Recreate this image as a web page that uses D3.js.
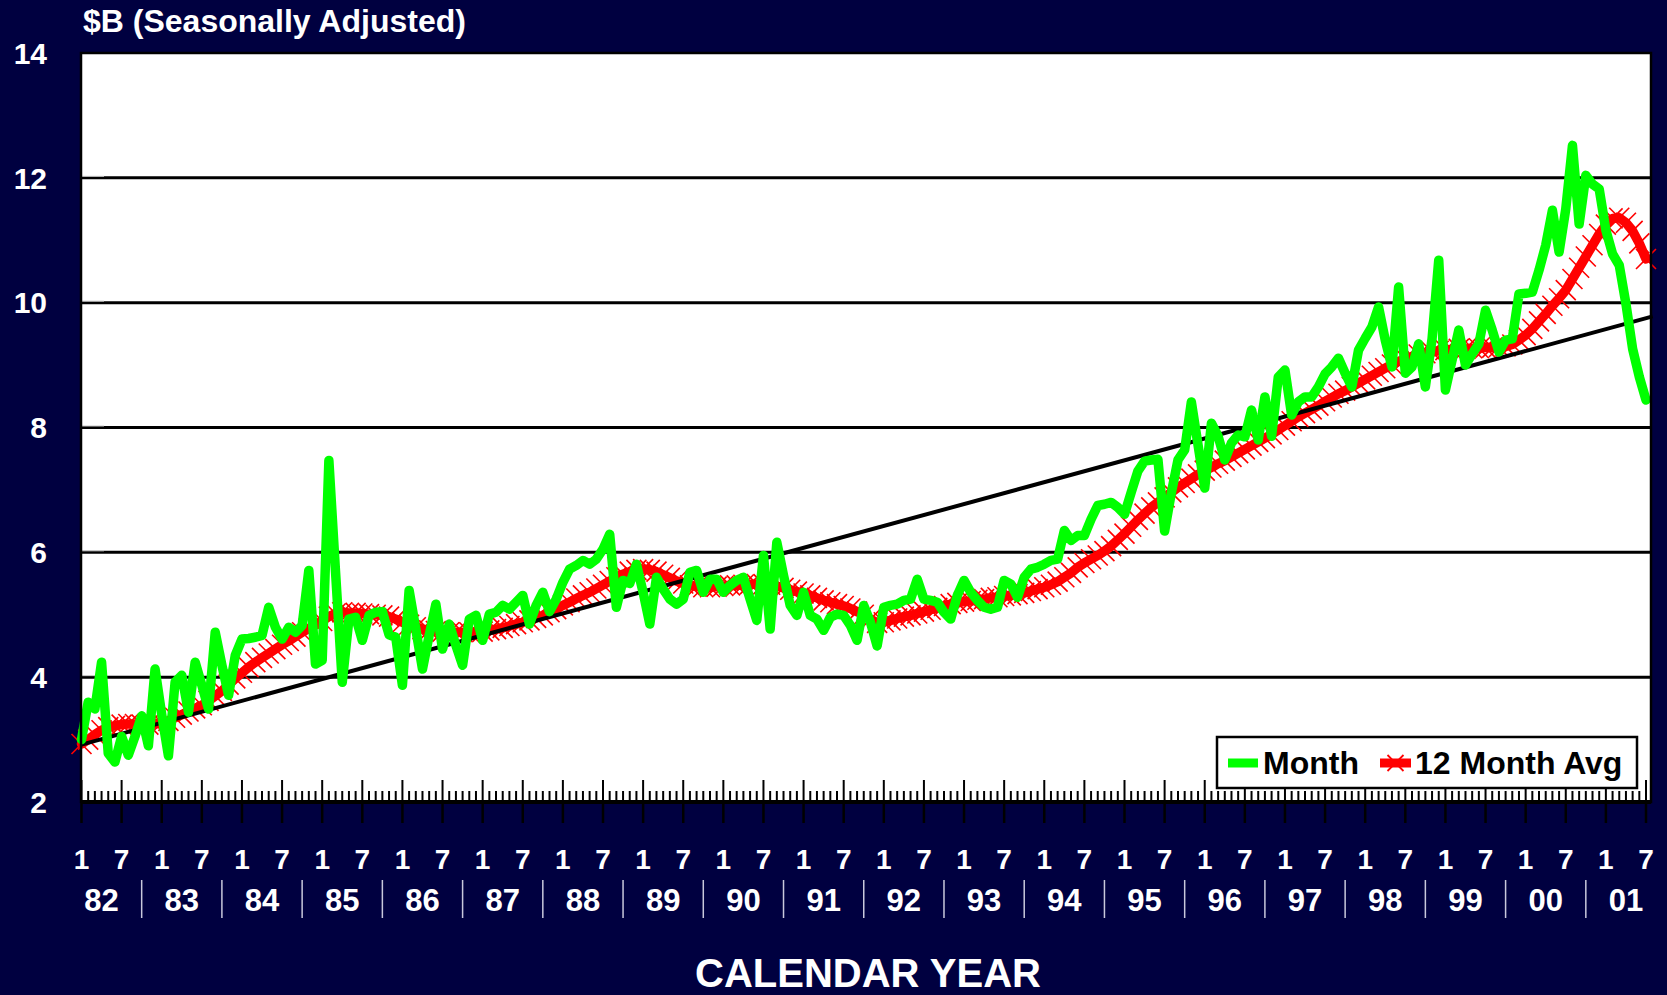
<!DOCTYPE html>
<html>
<head>
<meta charset="utf-8">
<script src="https://cdn.jsdelivr.net/npm/d3@7/dist/d3.min.js"></script>
<style>
  html, body { margin: 0; padding: 0; background: #000040; }
  svg { display: block; }
  text { font-family: "Liberation Sans", Arial, sans-serif; font-weight: bold; }
</style>
</head>
<body>
<div id="chart"></div>
<script>
// year labels and the two month labels shown per year
var years = ["82","83","84","85","86","87","88","89","90","91","92","93","94","95","96","97","98","99","00","01"];
var halfLabels = ["1", "7"];
var yTicks = [2, 4, 6, 8, 10, 12, 14];
var seriesNames = ["Month", "12 Month Avg"];

// monthly values, $B, Jan 1982 .. Jul 2001 (one row per year)
var monthly = [
  3.00, 3.60, 3.49, 4.24, 2.78, 2.64, 3.05, 2.75, 3.05, 3.38, 2.90, 4.13,
  3.40, 2.74, 3.92, 4.03, 3.44, 4.24, 3.87, 3.49, 4.72, 4.19, 3.71, 4.35,
  4.61, 4.62, 4.64, 4.67, 5.12, 4.80, 4.61, 4.80, 4.72, 4.83, 5.71, 4.21,
  4.27, 7.47, 5.68, 3.92, 4.93, 4.96, 4.59, 4.99, 5.04, 5.05, 4.68, 4.64,
  3.87, 5.39, 4.77, 4.13, 4.67, 5.17, 4.45, 4.85, 4.51, 4.19, 4.93, 4.99,
  4.59, 5.01, 5.04, 5.15, 5.09, 5.20, 5.31, 4.85, 5.15, 5.36, 5.05, 5.25,
  5.52, 5.73, 5.79, 5.87, 5.81, 5.89, 6.05, 6.29, 5.12, 5.55, 5.50, 5.81,
  5.36, 4.85, 5.60, 5.41, 5.25, 5.17, 5.25, 5.68, 5.71, 5.36, 5.57, 5.57,
  5.36, 5.47, 5.55, 5.60, 5.25, 4.91, 5.95, 4.77, 6.16, 5.63, 5.15, 4.99,
  5.36, 4.99, 4.93, 4.75, 4.96, 5.01, 4.99, 4.83, 4.59, 5.15, 4.88, 4.50,
  5.12, 5.15, 5.17, 5.23, 5.25, 5.57, 5.25, 5.23, 5.20, 5.04, 4.93, 5.31,
  5.55, 5.36, 5.23, 5.12, 5.09, 5.12, 5.55, 5.49, 5.28, 5.60, 5.73, 5.76,
  5.81, 5.87, 5.89, 6.35, 6.19, 6.27, 6.27, 6.53, 6.75, 6.77, 6.80, 6.72,
  6.61, 6.96, 7.30, 7.46, 7.48, 7.49, 6.34, 6.95, 7.48, 7.64, 8.41, 7.72,
  7.03, 8.07, 7.86, 7.48, 7.75, 7.88, 7.85, 8.28, 7.80, 8.49, 7.86, 8.81,
  8.92, 8.20, 8.41, 8.49, 8.49, 8.65, 8.86, 8.97, 9.11, 8.87, 8.65, 9.24,
  9.43, 9.61, 9.93, 9.40, 8.97, 10.25, 8.87, 8.97, 9.34, 8.65, 9.42, 10.68,
  8.60, 9.08, 9.56, 9.00, 9.18, 9.34, 9.88, 9.56, 9.21, 9.40, 9.42, 10.14,
  10.15, 10.17, 10.52, 10.92, 11.48, 10.81, 11.50, 12.52, 11.26, 12.04, 11.90, 11.82,
  11.16, 10.78, 10.60, 9.98, 9.26, 8.81, 8.44
];

// 12 month average, $B, same months
var avg12 = [
  2.93, 3.00, 3.08, 3.15, 3.20, 3.22, 3.24, 3.25, 3.25, 3.24, 3.24, 3.25,
  3.27, 3.30, 3.35, 3.40, 3.45, 3.50, 3.55, 3.62, 3.70, 3.78, 3.88, 3.98,
  4.07, 4.16, 4.24, 4.31, 4.38, 4.45, 4.52, 4.58, 4.65, 4.72, 4.78, 4.84,
  4.90, 4.97, 5.02, 5.04, 5.03, 5.03, 5.02, 5.01, 5.00, 4.99, 4.97, 4.93,
  4.88, 4.84, 4.80, 4.77, 4.75, 4.74, 4.73, 4.72, 4.72, 4.72, 4.72, 4.72,
  4.73, 4.75, 4.77, 4.79, 4.82, 4.85, 4.88, 4.91, 4.95, 4.99, 5.04, 5.09,
  5.15, 5.20, 5.26, 5.31, 5.36, 5.42, 5.48, 5.54, 5.60, 5.65, 5.69, 5.72,
  5.73, 5.72, 5.69, 5.64, 5.59, 5.54, 5.50, 5.47, 5.45, 5.44, 5.44, 5.45,
  5.46, 5.47, 5.47, 5.48, 5.49, 5.49, 5.49, 5.48, 5.46, 5.43, 5.40, 5.37,
  5.34, 5.31, 5.27, 5.23, 5.20, 5.17, 5.14, 5.10, 5.05, 5.00, 4.93, 4.87,
  4.88, 4.91, 4.94, 4.97, 4.99, 5.02, 5.05, 5.08, 5.11, 5.14, 5.17, 5.19,
  5.21, 5.22, 5.24, 5.25, 5.27, 5.28, 5.30, 5.31, 5.33, 5.35, 5.38, 5.41,
  5.44, 5.48, 5.53, 5.60, 5.67, 5.76, 5.83, 5.89, 5.95, 6.02, 6.10, 6.20,
  6.30, 6.41, 6.52, 6.62, 6.72, 6.80, 6.88, 6.96, 7.04, 7.11, 7.18, 7.25,
  7.31, 7.36, 7.42, 7.47, 7.53, 7.59, 7.65, 7.71, 7.77, 7.83, 7.89, 7.96,
  8.03, 8.10, 8.17, 8.23, 8.29, 8.35, 8.42, 8.48, 8.54, 8.59, 8.65, 8.71,
  8.77, 8.83, 8.89, 8.95, 9.01, 9.06, 9.10, 9.14, 9.17, 9.19, 9.21, 9.23,
  9.24, 9.25, 9.26, 9.26, 9.27, 9.27, 9.28, 9.28, 9.29, 9.30, 9.33, 9.40,
  9.48, 9.58, 9.70, 9.82, 9.95, 10.07, 10.20, 10.38, 10.56, 10.74, 10.92, 11.10,
  11.25, 11.35, 11.36, 11.28, 11.15, 10.95, 10.70
];

// straight trend line: value at first month and at the right edge (month 235)
var trendMonths = [0, 235];
var trendValues = [2.92, 9.78];

var width = 1667, height = 995;
var plot = { left: 81, right: 1651, top: 53, bottom: 802 };
var nMonths = monthly.length;

var svg = d3.select("#chart").append("svg")
  .attr("width", width)
  .attr("height", height);

svg.append("rect")
  .attr("width", width).attr("height", height)
  .attr("fill", "#000040");

var x = d3.scaleLinear()
  .domain([0, nMonths - 1])
  .range([81.5, 1646]);

var y = d3.scaleLinear()
  .domain([2, 14])
  .range([plot.bottom, plot.top]);

// plot area
svg.append("rect")
  .attr("x", plot.left).attr("y", plot.top)
  .attr("width", plot.right - plot.left)
  .attr("height", plot.bottom - plot.top)
  .attr("fill", "#ffffff");

// gridlines
svg.append("g").selectAll("line")
  .data(yTicks.filter(function (d) { return d > 2 && d < 14; }))
  .enter().append("line")
    .attr("x1", plot.left).attr("x2", plot.right)
    .attr("y1", function (d) { return y(d); })
    .attr("y2", function (d) { return y(d); })
    .attr("stroke", "#000").attr("stroke-width", 3);

// short light y tick stubs on the gridlines
svg.append("g").selectAll("line")
  .data(yTicks.filter(function (d) { return d > 2 && d < 14; }))
  .enter().append("line")
    .attr("x1", plot.left + 1).attr("x2", plot.left + 23)
    .attr("y1", function (d) { return y(d) - 1.5; })
    .attr("y2", function (d) { return y(d) - 1.5; })
    .attr("stroke", "#c8c8c8").attr("stroke-width", 1);

// y labels
svg.append("g").selectAll("text")
  .data(yTicks)
  .enter().append("text")
    .attr("x", 47)
    .attr("y", function (d) { return y(d); })
    .attr("dy", "0.36em")
    .attr("text-anchor", "end")
    .attr("fill", "#fff")
    .attr("font-size", 30)
    .text(function (d) { return d; });

// title
svg.append("text")
  .attr("x", 83).attr("y", 32)
  .attr("fill", "#fff")
  .attr("font-size", 32)
  .text("$B (Seasonally Adjusted)");

// 12 month avg: x markers + thick line
var xMark = "M-10,-10L10,10M-10,10L10,-10";
svg.append("g").selectAll("path")
  .data(avg12)
  .enter().append("path")
    .attr("d", xMark)
    .attr("transform", function (d, i) { return "translate(" + x(i) + "," + y(d) + ")"; })
    .attr("stroke", "#ff0000").attr("stroke-width", 1.6).attr("fill", "none");

var line = d3.line()
  .x(function (d, i) { return x(i); })
  .y(function (d) { return y(d); });

svg.append("path")
  .datum(avg12)
  .attr("d", line)
  .attr("fill", "none")
  .attr("stroke", "#ff0000")
  .attr("stroke-width", 9.5)
  .attr("stroke-linejoin", "round")
  .attr("stroke-linecap", "round");

// trend line
svg.append("path")
  .datum(trendValues)
  .attr("d", d3.line()
    .x(function (d, i) { return x(trendMonths[i]); })
    .y(function (d) { return y(d); }))
  .attr("stroke", "#000").attr("stroke-width", 4).attr("fill", "none");

// monthly line
svg.append("path")
  .datum(monthly)
  .attr("d", line)
  .attr("fill", "none")
  .attr("stroke", "#00ff00")
  .attr("stroke-width", 9.5)
  .attr("stroke-linejoin", "round")
  .attr("stroke-linecap", "round");

// plot border
svg.append("rect")
  .attr("x", plot.left).attr("y", plot.top)
  .attr("width", plot.right - plot.left)
  .attr("height", plot.bottom - plot.top)
  .attr("fill", "none")
  .attr("stroke", "#000").attr("stroke-width", 2.5);

// x axis: month ticks
var months = d3.range(nMonths);
svg.append("g").selectAll("line")
  .data(months)
  .enter().append("line")
    .attr("x1", function (d) { return x(d); })
    .attr("x2", function (d) { return x(d); })
    .attr("y1", plot.bottom)
    .attr("y2", function (d) { return d % 6 === 0 ? plot.bottom - 22 : plot.bottom - 11; })
    .attr("stroke", "#000").attr("stroke-width", 2);

svg.append("g").selectAll("line")
  .data(months.filter(function (d) { return d % 6 === 0; }))
  .enter().append("line")
    .attr("x1", function (d) { return x(d); })
    .attr("x2", function (d) { return x(d); })
    .attr("y1", plot.bottom)
    .attr("y2", plot.bottom + 21)
    .attr("stroke", "#000").attr("stroke-width", 2.5);

svg.append("line")
  .attr("x1", plot.left).attr("x2", plot.right)
  .attr("y1", plot.bottom).attr("y2", plot.bottom)
  .attr("stroke", "#000").attr("stroke-width", 4);

// "1" / "7" labels
var halfTicks = [];
years.forEach(function (yr, i) {
  halfLabels.forEach(function (lab, j) {
    var m = i * 12 + j * 6;
    if (m < nMonths) halfTicks.push({ m: m, label: lab });
  });
});
svg.append("g").selectAll("text")
  .data(halfTicks)
  .enter().append("text")
    .attr("x", function (d) { return x(d.m); })
    .attr("y", 869)
    .attr("text-anchor", "middle")
    .attr("fill", "#fff")
    .attr("font-size", 28)
    .text(function (d) { return d.label; });

// year labels and separators
svg.append("g").selectAll("text")
  .data(years)
  .enter().append("text")
    .attr("x", function (d, i) { return x(i * 12 + 3); })
    .attr("y", 911)
    .attr("text-anchor", "middle")
    .attr("fill", "#fff")
    .attr("font-size", 31)
    .text(function (d) { return d; });

svg.append("g").selectAll("line")
  .data(years.slice(0, -1))
  .enter().append("line")
    .attr("x1", function (d, i) { return x(i * 12 + 9); })
    .attr("x2", function (d, i) { return x(i * 12 + 9); })
    .attr("y1", 880).attr("y2", 918)
    .attr("stroke", "#c8c8dc").attr("stroke-width", 1.5);

svg.append("text")
  .attr("x", 868).attr("y", 987)
  .attr("text-anchor", "middle")
  .attr("fill", "#fff")
  .attr("font-size", 40)
  .text("CALENDAR YEAR");

// legend
var lg = svg.append("g");
lg.append("rect")
  .attr("x", 1217).attr("y", 737)
  .attr("width", 420).attr("height", 51)
  .attr("fill", "#fff")
  .attr("stroke", "#000").attr("stroke-width", 2.5);
lg.append("line")
  .attr("x1", 1228).attr("x2", 1258).attr("y1", 763).attr("y2", 763)
  .attr("stroke", "#00ff00").attr("stroke-width", 9);
lg.append("text")
  .attr("x", 1263).attr("y", 774)
  .attr("font-size", 32).attr("fill", "#000")
  .text(seriesNames[0]);
lg.append("line")
  .attr("x1", 1380).attr("x2", 1411).attr("y1", 763).attr("y2", 763)
  .attr("stroke", "#ff0000").attr("stroke-width", 9);
lg.append("path")
  .attr("d", "M-8,-8L8,8M-8,8L8,-8")
  .attr("transform", "translate(1395.5,763)")
  .attr("stroke", "#ff0000").attr("stroke-width", 1.8).attr("fill", "none");
lg.append("text")
  .attr("x", 1415).attr("y", 774)
  .attr("font-size", 32).attr("fill", "#000")
  .text(seriesNames[1]);
</script>
</body>
</html>
